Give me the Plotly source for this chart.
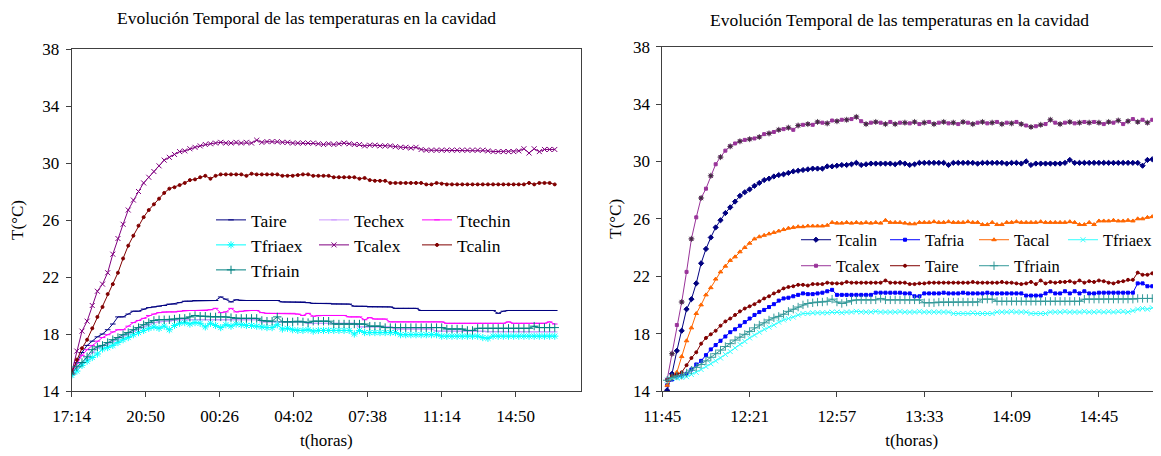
import plotly.graph_objects as go

# Page is 1161x456; the browser body margin places the figure 8 px from the corner.
OFF = 8
W, H = 1161 - OFF, 456 - OFF
FONT = "Liberation Serif"


def PX(x):  # page x pixel -> paper fraction
    return (x - OFF) / W


def PY(y):  # page y pixel -> paper fraction
    return 1 - (y - OFF) / H


# ---------------- Left chart data (every 15 min from 17:14) ----------------
t_left = list(range(0, 1411, 15))
left_tickvals = [0, 216, 432, 648, 864, 1080, 1296]
left_ticktext = ["17:14", "20:50", "00:26", "04:02", "07:38", "11:14", "14:50"]

L_Taire = [15.3, 16.0, 16.7, 17.2, 17.5, 17.8, 18.0, 18.3, 18.7, 19.2,
           19.2, 19.4, 19.6, 19.6, 19.75, 19.85, 19.9, 19.95, 20.0, 20.1,
           20.1, 20.2, 20.3, 20.3, 20.35, 20.35, 20.35, 20.35, 20.35, 20.6,
           20.45, 20.25, 20.4, 20.35, 20.35, 20.35, 20.35, 20.35, 20.35, 20.35,
           20.35, 20.25, 20.25, 20.25, 20.25, 20.25, 20.2, 20.15, 20.15, 20.15,
           20.15, 20.1, 20.1, 20.1, 20.1, 19.95, 19.95, 19.95, 19.9, 19.9,
           19.9, 19.9, 19.9, 19.8, 19.8, 19.8, 19.8, 19.8, 19.65, 19.65,
           19.65, 19.65, 19.65, 19.65, 19.65, 19.65, 19.65, 19.65, 19.65, 19.65,
           19.65, 19.65, 19.65, 19.45, 19.6, 19.65, 19.65, 19.65, 19.65, 19.65,
           19.65, 19.65, 19.65, 19.65, 19.65]
L_Techex = [15.2, 15.6, 15.95, 16.3, 16.7, 17.0, 17.15, 17.3, 17.5, 17.65,
            17.85, 18.0, 18.2, 18.35, 18.5, 18.65, 18.8, 18.85, 18.9, 18.9,
            18.95, 19.0, 19.0, 19.0, 19.0, 19.0, 19.0, 19.0, 19.0, 19.0,
            19.0, 19.0, 19.0, 19.0, 19.0, 19.0, 19.0, 18.85, 18.85, 18.85,
            18.85, 18.85, 18.85, 18.85, 18.85, 18.85, 18.75, 18.75, 18.75, 18.75,
            18.75, 18.75, 18.75, 18.75, 18.75, 18.75, 18.5, 18.5, 18.5, 18.5,
            18.5, 18.5, 18.5, 18.35, 18.35, 18.35, 18.35, 18.35, 18.35, 18.35,
            18.35, 18.2, 18.2, 18.2, 18.2, 18.2, 18.2, 18.2, 18.2, 18.2,
            18.2, 18.15, 18.15, 18.15, 18.15, 18.15, 18.15, 18.15, 18.15, 18.15,
            18.15, 18.15, 18.15, 18.15, 18.15]
L_Ttechin = [15.3, 15.95, 16.5, 16.9, 17.2, 17.5, 17.75, 17.95, 18.15, 18.3,
             18.3, 18.55, 18.8, 18.95, 19.1, 19.3, 19.4, 19.5, 19.55, 19.55,
             19.55, 19.6, 19.65, 19.65, 19.65, 19.65, 19.65, 19.7, 19.8, 19.5,
             19.55, 19.8, 19.55, 19.6, 19.65, 19.65, 19.65, 19.5, 19.45, 19.45,
             19.45, 19.45, 19.45, 19.45, 19.4, 19.3, 19.45, 19.25, 19.3, 19.3,
             19.3, 19.3, 19.3, 19.3, 19.2, 19.2, 19.2, 19.0, 19.15, 19.05,
             19.05, 19.05, 18.85, 18.85, 18.85, 18.85, 18.85, 18.85, 18.85, 18.85,
             18.85, 18.85, 18.85, 18.75, 18.75, 18.75, 18.75, 18.75, 18.75, 18.75,
             18.75, 18.75, 18.75, 18.75, 18.75, 18.85, 18.75, 18.75, 18.75, 18.75,
             18.75, 18.75, 18.75, 18.85, 18.7]
L_Tfriaex = [15.1, 15.4, 15.8, 16.1, 16.35, 16.6, 16.95, 17.05, 17.2, 17.4,
             17.6, 17.75, 17.95, 18.1, 18.25, 18.4, 18.5, 18.4, 18.55, 18.3,
             18.6, 18.75, 18.8, 18.7, 18.8, 18.75, 18.5, 18.75, 18.6, 18.45,
             18.65, 18.55, 18.7, 18.65, 18.6, 18.6, 18.55, 18.5, 18.45, 18.45,
             18.65, 18.35, 18.4, 18.3, 18.25, 18.25, 18.3, 18.2, 18.25, 18.25,
             18.25, 18.25, 18.25, 18.25, 18.25, 18.0, 18.25, 18.1, 18.1, 18.1,
             18.1, 18.1, 18.1, 18.1, 17.95, 17.95, 17.95, 17.95, 17.95, 17.95,
             17.95, 17.95, 17.85, 17.85, 17.85, 17.85, 17.85, 17.85, 17.85, 17.85,
             17.75, 17.7, 17.85, 17.85, 17.85, 17.85, 17.85, 17.85, 17.85, 17.85,
             17.85, 17.85, 17.85, 17.85, 17.85]
L_Tcalex = [15.3, 16.8, 18.2, 18.9, 20.0, 21.0, 21.5, 22.3, 23.6, 24.7,
            25.7, 26.7, 27.4, 28.0, 28.6, 29.0, 29.4, 29.8, 30.2, 30.4,
            30.6, 30.8, 30.85, 31.0, 31.1, 31.2, 31.3, 31.35, 31.4, 31.45,
            31.4, 31.4, 31.45, 31.4, 31.45, 31.4, 31.6, 31.45, 31.5, 31.5,
            31.5, 31.45, 31.45, 31.4, 31.4, 31.4, 31.4, 31.4, 31.35, 31.3,
            31.35, 31.3, 31.35, 31.4, 31.35, 31.3, 31.3, 31.2, 31.25, 31.25,
            31.2, 31.2, 31.2, 31.15, 31.1, 31.1, 31.05, 31.1, 30.95, 30.9,
            30.9, 30.9, 30.9, 30.9, 30.9, 30.9, 30.9, 30.9, 30.9, 30.9,
            30.9, 30.85, 30.8, 30.8, 30.8, 30.8, 30.8, 30.85, 31.0, 30.7,
            31.0, 30.8, 30.95, 30.95, 30.95]
L_Tcalin = [15.3, 16.2, 17.0, 17.6, 18.4, 19.2, 19.9, 20.8, 21.5, 22.3,
            23.3, 24.2, 24.9, 25.6, 26.2, 26.7, 27.1, 27.5, 27.9, 28.2,
            28.3, 28.45, 28.6, 28.8, 28.85, 29.0, 29.1, 28.9, 29.1, 29.2,
            29.2, 29.2, 29.2, 29.2, 29.1, 29.25, 29.2, 29.2, 29.2, 29.2,
            29.2, 29.1, 29.1, 29.1, 29.15, 29.2, 29.2, 29.1, 29.1, 29.1,
            29.1, 29.0, 29.0, 29.0, 29.0, 29.0, 28.9, 28.95, 28.8, 28.75,
            28.75, 28.75, 28.6, 28.6, 28.6, 28.6, 28.6, 28.6, 28.6, 28.5,
            28.5, 28.6, 28.55, 28.5, 28.5, 28.5, 28.5, 28.5, 28.5, 28.5,
            28.5, 28.5, 28.5, 28.5, 28.5, 28.5, 28.5, 28.5, 28.5, 28.6,
            28.5, 28.6, 28.6, 28.6, 28.5]
L_Tfriain = [15.2, 15.7, 16.0, 16.4, 16.9, 17.1, 17.2, 17.4, 17.6, 17.75,
             17.95, 18.1, 18.3, 18.45, 18.65, 18.8, 18.95, 19.0, 19.0, 19.0,
             19.05, 19.1, 19.1, 19.2, 19.3, 19.25, 19.25, 19.2, 19.2, 19.2,
             19.2, 19.15, 19.1, 19.1, 19.1, 19.1, 19.1, 18.95, 18.9, 18.9,
             19.2, 18.85, 18.85, 18.85, 18.9, 18.85, 18.8, 18.9, 18.9, 18.9,
             18.9, 18.7, 18.7, 18.7, 18.7, 18.7, 18.7, 18.7, 18.55, 18.55,
             18.55, 18.45, 18.45, 18.45, 18.45, 18.45, 18.45, 18.45, 18.45, 18.45,
             18.45, 18.45, 18.45, 18.35, 18.35, 18.35, 18.35, 18.25, 18.25, 18.4,
             18.4, 18.4, 18.4, 18.4, 18.4, 18.4, 18.4, 18.4, 18.4, 18.4,
             18.55, 18.45, 18.45, 18.45, 18.45]

# ---------------- Right chart data (every 2 min from 11:45) ----------------
t_right = list(range(2, 207, 2))
right_tickvals = [0, 36, 72, 108, 144, 180]
right_ticktext = ["11:45", "12:21", "12:57", "13:33", "14:09", "14:45"]

R_Tcalin = [14.05, 15.2, 16.8, 18.2, 19.7, 20.4, 21.5, 22.9, 23.9, 24.7,
            25.4, 25.9, 26.4, 26.8, 27.2, 27.6, 27.85, 28.05, 28.3, 28.5,
            28.7, 28.8, 28.95, 29.05, 29.1, 29.2, 29.3, 29.35, 29.4, 29.45,
            29.5, 29.5, 29.5, 29.65, 29.65, 29.7, 29.75, 29.75, 29.8, 29.9,
            29.75, 29.8, 29.85, 29.85, 29.85, 29.85, 29.85, 29.8, 29.9, 29.85,
            29.75, 29.8, 29.9, 29.9, 29.9, 29.9, 29.9, 29.9, 29.75, 29.9,
            29.9, 29.9, 29.9, 29.9, 29.85, 29.9, 29.9, 29.9, 29.9, 29.9,
            29.85, 29.9, 29.9, 29.85, 30.0, 29.75, 29.85, 29.85, 29.85, 29.85,
            29.85, 29.85, 29.9, 30.1, 29.9, 29.9, 29.9, 29.9, 29.9, 29.9,
            29.9, 29.9, 29.9, 29.9, 29.9, 29.9, 29.9, 29.9, 29.7, 30.1,
            30.15, 30.2, 30.1]
R_Tafria = [14.4, 14.8, 15.0, 15.05, 15.2, 15.5, 15.85, 16.1, 16.5, 16.9,
            17.2, 17.5, 17.8, 18.1, 18.3, 18.55, 18.8, 19.05, 19.3, 19.5,
            19.65, 19.85, 20.05, 20.3, 20.45, 20.5, 20.6, 20.7, 20.8, 20.75,
            20.75, 20.8, 20.85, 20.95, 21.05, 20.7, 20.7, 20.7, 20.7, 20.7,
            20.7, 20.7, 20.7, 20.85, 20.85, 20.85, 20.85, 20.85, 20.85, 20.8,
            20.8, 20.6, 20.6, 20.8, 20.8, 20.8, 20.8, 20.85, 20.8, 20.8,
            20.8, 20.85, 20.8, 20.8, 20.8, 20.8, 20.85, 20.8, 20.8, 20.8,
            20.8, 20.8, 20.8, 20.8, 20.65, 20.65, 20.65, 20.65, 20.8, 20.95,
            20.8, 20.8, 20.95, 20.8, 20.95, 20.8, 20.95, 20.8, 20.8, 20.85,
            20.85, 20.85, 20.85, 20.85, 20.85, 20.85, 20.85, 21.5, 21.5, 21.3,
            21.3, 21.3, 21.3]
R_Tacal = [14.4, 14.9, 15.3, 16.4, 17.5, 18.4, 19.4, 20.0, 20.7, 21.2,
           21.8, 22.3, 22.7, 23.1, 23.35, 23.7, 24.0, 24.3, 24.6, 24.75,
           24.85, 24.95, 25.05, 25.15, 25.25, 25.35, 25.4, 25.45, 25.45, 25.5,
           25.5, 25.5, 25.5, 25.55, 25.75, 25.7, 25.7, 25.75, 25.7, 25.75,
           25.7, 25.75, 25.7, 25.75, 25.7, 25.9, 25.75, 25.75, 25.75, 25.7,
           25.65, 25.65, 25.75, 25.75, 25.75, 25.8, 25.75, 25.75, 25.8, 25.75,
           25.75, 25.75, 25.8, 25.75, 25.75, 25.6, 25.6, 25.75, 25.6, 25.6,
           25.75, 25.75, 25.8, 25.75, 25.75, 25.75, 25.75, 25.8, 25.75, 25.75,
           25.75, 25.75, 25.75, 25.8, 25.75, 25.6, 25.6, 25.75, 25.6, 25.85,
           25.85, 25.85, 25.9, 25.85, 25.85, 25.9, 25.85, 26.0, 26.0, 26.1,
           26.15, 26.1, 26.15]
R_Tfriaex = [14.75, 14.9, 14.9, 14.95, 15.0, 15.15, 15.3, 15.5, 15.7, 15.9,
             16.1, 16.3, 16.55, 16.75, 17.0, 17.25, 17.45, 17.7, 17.9, 18.1,
             18.3, 18.45, 18.6, 18.8, 18.95, 19.05, 19.15, 19.3, 19.4, 19.4,
             19.45, 19.45, 19.45, 19.45, 19.5, 19.5, 19.45, 19.5, 19.5, 19.55,
             19.5, 19.5, 19.5, 19.55, 19.5, 19.5, 19.5, 19.5, 19.55, 19.5,
             19.5, 19.5, 19.55, 19.5, 19.5, 19.5, 19.5, 19.5, 19.5, 19.4,
             19.4, 19.4, 19.4, 19.45, 19.4, 19.4, 19.4, 19.4, 19.5, 19.5,
             19.5, 19.55, 19.5, 19.5, 19.5, 19.4, 19.4, 19.4, 19.4, 19.5,
             19.5, 19.5, 19.55, 19.5, 19.5, 19.5, 19.55, 19.5, 19.5, 19.55,
             19.5, 19.55, 19.5, 19.55, 19.55, 19.5, 19.6, 19.7, 19.75, 19.7,
             19.8, 19.75, 19.8]
R_Tcalex = [14.8, 16.6, 18.6, 20.2, 22.3, 24.6, 26.1, 27.45, 28.1, 29.0,
            29.8, 30.3, 30.75, 31.05, 31.25, 31.4, 31.5, 31.55, 31.6, 31.7,
            31.9, 31.95, 32.05, 32.2, 32.25, 32.35, 32.2, 32.5, 32.55, 32.6,
            32.55, 32.75, 32.7, 32.65, 32.85, 32.8, 32.9, 32.9, 32.95, 33.1,
            32.8, 32.6, 32.7, 32.75, 32.7, 32.6, 32.75, 32.6, 32.7, 32.7,
            32.65, 32.75, 32.6, 32.7, 32.75, 32.6, 32.7, 32.75, 32.65, 32.7,
            32.6, 32.75, 32.7, 32.6, 32.7, 32.75, 32.65, 32.7, 32.75, 32.6,
            32.7, 32.65, 32.75, 32.6, 32.5, 32.4, 32.45, 32.55, 32.6, 32.9,
            32.7, 32.6, 32.7, 32.75, 32.65, 32.7, 32.75, 32.7, 32.75, 32.7,
            32.6, 32.75, 32.7, 32.85, 32.6, 32.8, 32.95, 32.75, 32.9, 32.7,
            32.9, 32.8, 32.95]
R_Taire = [14.75, 15.05, 15.15, 15.3, 15.8, 16.3, 16.7, 17.3, 17.7, 17.95,
           18.2, 18.55, 18.85, 19.05, 19.3, 19.55, 19.75, 19.9, 20.05, 20.25,
           20.45, 20.6, 20.8, 20.95, 21.15, 21.25, 21.3, 21.4, 21.4, 21.35,
           21.45, 21.45, 21.45, 21.55, 21.5, 21.5, 21.5, 21.6, 21.55, 21.55,
           21.55, 21.55, 21.55, 21.55, 21.55, 21.7, 21.55, 21.55, 21.55, 21.55,
           21.45, 21.45, 21.5, 21.5, 21.55, 21.55, 21.55, 21.55, 21.55, 21.55,
           21.55, 21.55, 21.55, 21.6, 21.55, 21.55, 21.55, 21.55, 21.55, 21.6,
           21.55, 21.55, 21.5, 21.45, 21.5, 21.6, 21.45, 21.7, 21.5, 21.6,
           21.55, 21.6, 21.6, 21.65, 21.55, 21.7, 21.55, 21.65, 21.6, 21.7,
           21.65, 21.55, 21.5, 21.6, 21.65, 21.75, 21.75, 22.25, 22.1, 22.1,
           22.2, 22.15, 22.0]
R_Tfriain = [14.75, 14.95, 15.05, 15.1, 15.25, 15.45, 15.65, 15.85, 16.1, 16.35,
             16.6, 16.85, 17.1, 17.3, 17.55, 17.75, 17.95, 18.15, 18.4, 18.6,
             18.75, 18.95, 19.1, 19.2, 19.35, 19.55, 19.7, 19.85, 20.0, 20.1,
             20.15, 20.2, 20.2, 20.25, 20.4, 20.2, 20.1, 20.2, 20.3, 20.35,
             20.35, 20.35, 20.35, 20.35, 20.45, 20.35, 20.35, 20.35, 20.35, 20.35,
             20.35, 20.35, 20.35, 20.15, 20.15, 20.15, 20.2, 20.2, 20.2, 20.2,
             20.2, 20.2, 20.2, 20.2, 20.2, 20.4, 20.4, 20.4, 20.25, 20.25,
             20.25, 20.25, 20.25, 20.25, 20.25, 20.25, 20.25, 20.25, 20.25, 20.25,
             20.25, 20.25, 20.25, 20.25, 20.25, 20.25, 20.4, 20.4, 20.4, 20.4,
             20.4, 20.4, 20.4, 20.4, 20.4, 20.4, 20.4, 20.45, 20.45, 20.45,
             20.45, 20.5, 20.45]

TITLE = "Evolución Temporal de las temperaturas en la cavidad"

fig = go.Figure()


def add(x, y, name, color, symbol, size, legend, xa, ya, lw=1.0, mcolor=None, showlegend=True):
    mc = mcolor or color
    fig.add_trace(go.Scatter(
        x=x, y=y, name=name, mode="lines+markers", xaxis=xa, yaxis=ya,
        legend=legend, showlegend=showlegend,
        line=dict(color=color, width=lw),
        marker=dict(symbol=symbol, size=size, color=mc, line=dict(color=mc, width=1)),
    ))


# Left chart
add(t_left, L_Taire, "Taire", "#000080", "line-ew-open", 4, "legend", "x", "y")
add(t_left, L_Techex, "Techex", "#CC99FF", "line-ew-open", 4, "legend", "x", "y")
add(t_left, L_Ttechin, "Ttechin", "#FF00FF", "line-ew-open", 4, "legend", "x", "y")
add(t_left, L_Tfriaex, "Tfriaex", "#00FFFF", "asterisk-open", 6, "legend2", "x", "y")
add(t_left, L_Tcalex, "Tcalex", "#800080", "x-thin-open", 5, "legend2", "x", "y")
add(t_left, L_Tcalin, "Tcalin", "#800000", "circle", 3, "legend2", "x", "y")
add(t_left, L_Tfriain, "Tfriain", "#008080", "cross-thin-open", 6, "legend3", "x", "y")

# Right chart
add(t_right, R_Tcalin, "Tcalin", "#000080", "diamond", 4, "legend4", "x2", "y2")
add(t_right, R_Tafria, "Tafria", "#0000FF", "square", 3, "legend4", "x2", "y2")
add(t_right, R_Tacal, "Tacal", "#FF6600", "triangle-up", 4, "legend4", "x2", "y2")
add(t_right, R_Tfriaex, "Tfriaex", "#33FFFF", "x-thin-open", 5, "legend4", "x2", "y2")
add(t_right, R_Tcalex, "Tcalex", "#993399", "square", 3, "legend5", "x2", "y2")
fig.add_trace(go.Scatter(x=t_right[1::2], y=R_Tcalex[1::2], mode="markers", xaxis="x2", yaxis="y2",
                         showlegend=False, hoverinfo="skip",
                         marker=dict(symbol="asterisk-open", size=5, color="#303030",
                                     line=dict(color="#303030", width=0.8))))
add(t_right, R_Taire, "Taire", "#800000", "circle", 3, "legend5", "x2", "y2")
add(t_right, R_Tfriain, "Tfriain", "#339999", "cross-thin-open", 6, "legend5", "x2", "y2")

axis_common = dict(showline=True, linecolor="#404040", linewidth=1, ticks="outside",
                   ticklen=5, tickcolor="#404040", showgrid=False, zeroline=False,
                   automargin=False,
                   tickfont=dict(family=FONT, size=17, color="black"))


def legend_cfg(xpx, ypx, ew, fs):
    return dict(orientation="h", x=PX(xpx), y=PY(ypx), xanchor="left", yanchor="middle",
                entrywidth=ew, entrywidthmode="pixels", bgcolor="rgba(0,0,0,0)",
                borderwidth=0, itemwidth=30,
                font=dict(family=FONT, size=fs, color="black"))


fig.update_layout(
    width=W, height=H, margin=dict(l=0, r=0, t=0, b=0, autoexpand=False),
    paper_bgcolor="white", plot_bgcolor="white",
    font=dict(family=FONT, size=17, color="black"),
    xaxis=dict(domain=[PX(71.7), PX(581)], range=[0, 1486.6], anchor="y", mirror=True,
               tickmode="array", tickvals=left_tickvals, ticktext=left_ticktext,
               ticklabelstandoff=5,
               title=dict(text="t(horas)", standoff=8, font=dict(family=FONT, size=17)),
               **axis_common),
    yaxis=dict(domain=[PY(391), PY(49)], range=[14, 38], anchor="x", mirror=True,
               tickmode="array", tickvals=[14, 18, 22, 26, 30, 34, 38],
               ticklabelstandoff=3,
               title=dict(text="T(°C)", standoff=17, font=dict(family=FONT, size=17)),
               **axis_common),
    xaxis2=dict(domain=[PX(662.3), 1.0], range=[0, 205.6], anchor="y2", mirror=True,
                tickmode="array", tickvals=right_tickvals, ticktext=right_ticktext,
                ticklabelstandoff=5,
                title=dict(text="t(horas)", standoff=8, font=dict(family=FONT, size=17)),
                **axis_common),
    yaxis2=dict(domain=[PY(391), PY(46.6)], range=[14, 38], anchor="x2", mirror=False,
                tickmode="array", tickvals=[14, 18, 22, 26, 30, 34, 38],
                ticklabelstandoff=3,
                title=dict(text="T(°C)", standoff=6, font=dict(family=FONT, size=17)),
                **axis_common),
    legend=legend_cfg(211, 220, 58, 17.5),
    legend2=legend_cfg(211, 245, 58, 17.5),
    legend3=legend_cfg(211, 270, 58, 17.5),
    legend4=legend_cfg(796, 240, 44, 16.5),
    legend5=legend_cfg(796, 266, 44, 16.5),
    annotations=[
        dict(text=TITLE, x=PX(307), y=PY(18), xref="paper", yref="paper",
             showarrow=False, xanchor="center", yanchor="middle",
             font=dict(family=FONT, size=17.5, color="black")),
        dict(text=TITLE, x=PX(899), y=PY(20), xref="paper", yref="paper",
             showarrow=False, xanchor="center", yanchor="middle",
             font=dict(family=FONT, size=17.5, color="black")),
    ],
)

fig.write_html("out.html")
